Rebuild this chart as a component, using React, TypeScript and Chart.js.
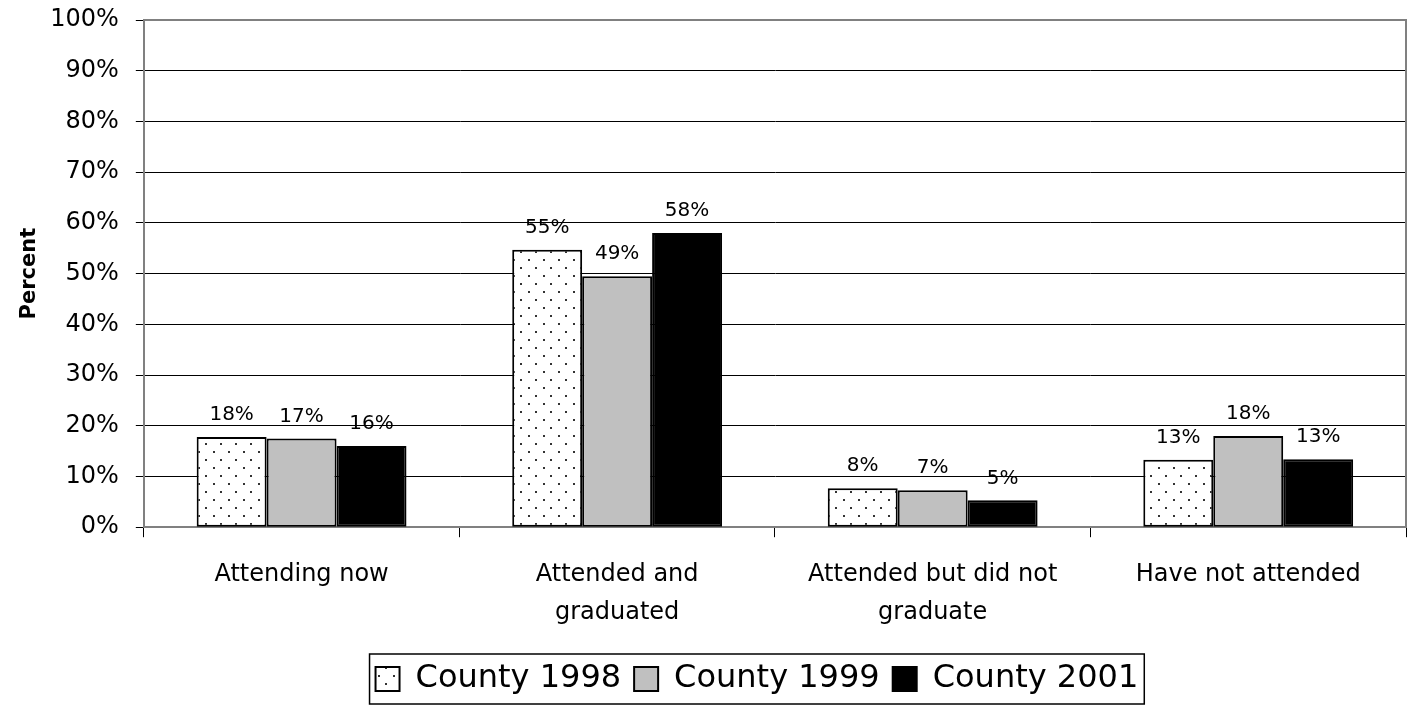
import React, { useEffect, useRef } from "react";
import { Chart, registerables } from "chart.js";

Chart.register(...registerables);

const categories: (string | string[])[] = [
  "Attending now",
  ["Attended and", "graduated"],
  ["Attended but did not", "graduate"],
  "Have not attended",
];
const seriesNames = ["County 1998", "County 1999", "County 2001"];
const county1998 = [17.8, 54.7, 7.7, 13.3];
const county1999 = [17.5, 49.5, 7.3, 18.0];
const county2001 = [16.0, 58.0, 5.3, 13.4];
const labels1998 = ["18%", "55%", "8%", "13%"];
const labels1999 = ["17%", "49%", "7%", "18%"];
const labels2001 = ["16%", "58%", "5%", "13%"];

const FONT = "'DejaVu Sans', sans-serif";
const LEGEND_SHIFT = 18;

function makeDots(): CanvasPattern | string {
  const c = document.createElement("canvas");
  c.width = 15;
  c.height = 16;
  const ctx = c.getContext("2d");
  if (!ctx) return "#ffffff";
  ctx.fillStyle = "#ffffff";
  ctx.fillRect(0, 0, 15, 16);
  ctx.fillStyle = "#333333";
  ctx.fillRect(3, 3, 2, 2);
  ctx.fillRect(10, 11, 2, 2);
  return ctx.createPattern(c, "repeat") || "#ffffff";
}

export default function App() {
  const ref = useRef<HTMLCanvasElement | null>(null);

  useEffect(() => {
    document.body.style.margin = "0";
    const canvas = ref.current;
    if (!canvas) return;
    const dots = makeDots();
    const labelSets = [labels1998, labels1999, labels2001];

    const labelPlugin = {
      id: "barLabels",
      afterDatasetsDraw(chart: any) {
        const ctx = chart.ctx;
        ctx.save();
        ctx.font = `20px ${FONT}`;
        ctx.fillStyle = "#000";
        ctx.textAlign = "center";
        ctx.textBaseline = "bottom";
        chart.data.datasets.forEach((ds: any, i: number) => {
          const meta = chart.getDatasetMeta(i);
          meta.data.forEach((el: any, j: number) => {
            ctx.fillText(labelSets[i][j], el.x, el.y - 12);
          });
        });
        ctx.restore();
      },
    };

    const legendShift = {
      id: "legendShift",
      afterLayout(chart: any) {
        const lg = chart.legend;
        if (!lg) return;
        lg.left -= LEGEND_SHIFT;
        lg.right -= LEGEND_SHIFT;
      },
    };

    const framePlugin = {
      id: "frame",
      afterDraw(chart: any) {
        const ctx = chart.ctx;
        const a = chart.chartArea;
        ctx.save();
        ctx.strokeStyle = "#808080";
        ctx.lineWidth = 2;
        ctx.beginPath();
        ctx.moveTo(a.left, a.top);
        ctx.lineTo(a.right, a.top);
        ctx.lineTo(a.right, a.bottom);
        ctx.stroke();
        const lg = chart.legend;
        const hb = (lg && lg.legendHitBoxes) || [];
        if (hb.length) {
          let l = Infinity, r = -Infinity, t = Infinity, b = -Infinity;
          hb.forEach((h: any) => {
            l = Math.min(l, h.left);
            r = Math.max(r, h.left + h.width);
            t = Math.min(t, h.top);
            b = Math.max(b, h.top + h.height);
          });
          const cy = (t + b) / 2;
          ctx.strokeStyle = "#000";
          ctx.lineWidth = 1.5;
          ctx.strokeRect(l - 6, cy - 25, r - l + 12, 50);
        }
        ctx.restore();
      },
    };

    const chart = new Chart(canvas, {
      type: "bar",
      data: {
        labels: categories as any,
        datasets: [
          {
            label: seriesNames[0],
            data: county1998,
            backgroundColor: dots as any,
            borderColor: "#000",
            borderWidth: 2,
            borderSkipped: false,
          },
          {
            label: seriesNames[1],
            data: county1999,
            backgroundColor: "#c0c0c0",
            borderColor: "#000",
            borderWidth: 2,
            borderSkipped: false,
          },
          {
            label: seriesNames[2],
            data: county2001,
            backgroundColor: "#000000",
            borderColor: "#000",
            borderWidth: 2,
            borderSkipped: false,
          },
        ],
      },
      options: {
        animation: false,
        responsive: false,
        maintainAspectRatio: false,
        datasets: {
          bar: { categoryPercentage: 0.665, barPercentage: 1 },
        },
        layout: { padding: { top: 0, right: 6, left: 17, bottom: 0 } },
        plugins: {
          tooltip: { enabled: false },
          legend: {
            position: "bottom",
            fullSize: false,
            labels: {
              font: { family: FONT, size: 32 },
              color: "#000",
              boxWidth: 24,
              boxHeight: 24,
              padding: 13,
            },
          },
        },
        scales: {
          x: {
            grid: {
              display: true,
              drawOnChartArea: false,
              drawTicks: true,
              tickLength: 10,
              color: "#000",
              offset: true,
            },
            border: { color: "#808080", width: 2 },
            ticks: {
              font: { family: FONT, size: 24, lineHeight: 1.6 },
              color: "#000",
              maxRotation: 0,
              autoSkip: false,
              padding: 18,
            },
          },
          y: {
            min: 0,
            max: 100,
            afterFit(scale: any) {
              scale.paddingTop = 20;
              scale.paddingBottom = 15;
            },
            ticks: {
              stepSize: 10,
              callback: (v: any) => v + "%",
              font: { family: FONT, size: 24 },
              color: "#000",
              padding: 17,
            },
            grid: { color: "#000", lineWidth: 1, tickLength: 8 },
            border: { color: "#808080", width: 2 },
            title: {
              display: true,
              text: "Percent",
              font: { family: FONT, size: 21, weight: "bold" },
              color: "#000",
              padding: { top: 0, bottom: -9 },
            },
          },
        },
      },
      plugins: [labelPlugin, legendShift, framePlugin],
    });
    return () => chart.destroy();
  }, []);

  return (
    <div style={{ width: 1412, height: 705 }}>
      <canvas ref={ref} width={1412} height={705} style={{ display: "block" }} />
    </div>
  );
}
